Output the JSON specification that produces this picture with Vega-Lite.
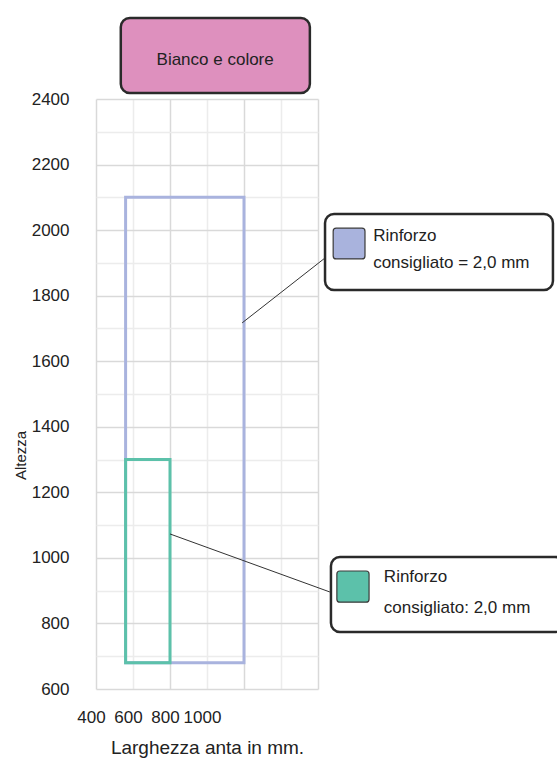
{
  "$schema": "https://vega.github.io/schema/vega-lite/v6.json",
  "width": 222,
  "height": 590,
  "autosize": {"type": "none"},
  "padding": {"left": 96, "top": 99, "right": 239, "bottom": 70},
  "background": "white",
  "config": {
    "view": {"stroke": null},
    "font": "Liberation Sans",
    "text": {"font": "Liberation Sans", "color": "#222222"}
  },
  "datasets": {
    "rinforzi": [
      {"serie": "Rinforzo A", "larghezza_min": 480, "larghezza_max": 800, "altezza_min": 680, "altezza_max": 2100},
      {"serie": "Rinforzo B", "larghezza_min": 480, "larghezza_max": 600, "altezza_min": 680, "altezza_max": 1300}
    ],
    "richiami": [
      {"serie": "Rinforzo A", "x": 795, "y": 1717, "x2": 1019, "y2": 1915},
      {"serie": "Rinforzo B", "x": 600, "y": 1073, "x2": 1032, "y2": 896}
    ],
    "riquadri": [
      {"tipo": "titolo", "x": 467, "x2": 978, "y": 2418, "y2": 2647},
      {"tipo": "legenda", "x": 1019, "x2": 1635, "y": 1817, "y2": 2049},
      {"tipo": "legenda", "x": 1035, "x2": 1665, "y": 774, "y2": 1003}
    ],
    "campioni": [
      {"tipo": "Rinforzo A", "x": 1041, "x2": 1127, "y": 1912, "y2": 2006},
      {"tipo": "Rinforzo B", "x": 1051, "x2": 1138, "y": 865, "y2": 960}
    ],
    "testi": [
      {"testo": "Rinforzo", "x": 1149, "y": 1982},
      {"testo": "consigliato = 2,0 mm", "x": 1149, "y": 1900},
      {"testo": "Rinforzo", "x": 1178, "y": 942},
      {"testo": "consigliato: 2,0 mm", "x": 1178, "y": 847}
    ],
    "titolo": [
      {"testo": "Bianco e colore", "x": 722, "y": 2519}
    ]
  },
  "resolve": {"axis": {"x": "independent", "y": "independent"}},
  "layer": [
    {
      "data": {"name": "rinforzi"},
      "mark": {"type": "rect", "opacity": 0},
      "encoding": {
        "x": {
          "field": "larghezza_min", "type": "quantitative",
          "scale": {"domain": [400, 1000], "nice": false, "zero": false},
          "axis": {
            "orient": "bottom",
            "values": [500, 700, 900],
            "labels": false,
            "ticks": false,
            "domain": false,
            "grid": true,
            "gridColor": "#ececec",
            "gridWidth": 1.5,
            "title": null
          }
        },
        "x2": {"field": "larghezza_max"},
        "y": {
          "field": "altezza_min", "type": "quantitative",
          "scale": {"domain": [600, 2400], "nice": false, "zero": false},
          "axis": {
            "orient": "left",
            "values": [700, 900, 1100, 1300, 1500, 1700, 1900, 2100, 2300],
            "labels": false,
            "ticks": false,
            "domain": false,
            "grid": true,
            "gridColor": "#ececec",
            "gridWidth": 1.5,
            "title": null
          }
        },
        "y2": {"field": "altezza_max"}
      }
    },
    {
      "data": {"name": "rinforzi"},
      "mark": {"type": "rect", "fill": null, "fillOpacity": 0, "strokeWidth": 3},
      "encoding": {
        "x": {
          "field": "larghezza_min", "type": "quantitative",
          "axis": {
            "orient": "bottom",
            "values": [400, 500, 600, 700, 800, 1000],
            "labelExpr": "datum.value <= 700 ? format(400 + (datum.value - 400) * 2, 'd') : ''",
            "labelOverlap": false,
            "labelFlush": false,
            "labelBound": false,
            "labelOffset": -5,
            "labelFontSize": 17,
            "labelColor": "#222222",
            "labelPadding": 20,
            "ticks": false,
            "domain": false,
            "grid": false,
            "title": "Larghezza anta in mm.",
            "titleFontSize": 19,
            "titleFontWeight": "normal",
            "titleColor": "#222222",
            "titlePadding": 13
          }
        },
        "x2": {"field": "larghezza_max"},
        "y": {
          "field": "altezza_min", "type": "quantitative",
          "axis": {
            "orient": "left",
            "values": [600, 800, 1000, 1200, 1400, 1600, 1800, 2000, 2200, 2400],
            "format": "d",
            "labelOverlap": false,
            "labelFlush": false,
            "labelBound": false,
            "labelFontSize": 17,
            "labelColor": "#222222",
            "labelPadding": 27,
            "ticks": false,
            "domain": false,
            "grid": true,
            "gridColor": "#d9d9d9",
            "gridWidth": 1.5,
            "title": "Altezza",
            "titleFontSize": 15,
            "titleFontWeight": "normal",
            "titleColor": "#222222",
            "titleAngle": -90,
            "titleAlign": "center",
            "titleBaseline": "middle",
            "titleX": -76,
            "titleY": 356
          }
        },
        "y2": {"field": "altezza_max"},
        "stroke": {
          "field": "serie", "type": "nominal",
          "scale": {"domain": ["Rinforzo A", "Rinforzo B"], "range": ["#a9b3de", "#5cc1aa"]},
          "legend": null
        }
      }
    },
    {
      "data": {"name": "richiami"},
      "mark": {"type": "rule", "color": "#333333", "strokeWidth": 1},
      "encoding": {
        "x": {"field": "x", "type": "quantitative", "axis": {"orient": "bottom", "values": [400, 600, 800, 1000], "labels": false, "ticks": false, "domain": false, "grid": true, "gridColor": "#d9d9d9", "gridWidth": 1.5, "title": null}},
        "y": {"field": "y", "type": "quantitative", "axis": null},
        "x2": {"field": "x2"},
        "y2": {"field": "y2"}
      }
    },
    {
      "data": {"name": "riquadri"},
      "mark": {"type": "rect", "stroke": "#2a2a2a", "strokeWidth": 2.5, "cornerRadius": 9},
      "encoding": {
        "x": {"field": "x", "type": "quantitative", "axis": null},
        "x2": {"field": "x2"},
        "y": {"field": "y", "type": "quantitative", "axis": null},
        "y2": {"field": "y2"},
        "fill": {
          "field": "tipo", "type": "nominal",
          "scale": {"domain": ["titolo", "legenda", "Rinforzo A", "Rinforzo B"], "range": ["#de90be", "#ffffff", "#a9b3dd", "#5cc1aa"]},
          "legend": null
        }
      }
    },
    {
      "data": {"name": "campioni"},
      "mark": {"type": "rect", "stroke": "#3a3a3a", "strokeWidth": 1.2, "cornerRadius": 3},
      "encoding": {
        "x": {"field": "x", "type": "quantitative", "axis": null},
        "x2": {"field": "x2"},
        "y": {"field": "y", "type": "quantitative", "axis": null},
        "y2": {"field": "y2"},
        "fill": {"field": "tipo", "type": "nominal", "legend": null}
      }
    },
    {
      "data": {"name": "testi"},
      "mark": {"type": "text", "align": "left", "baseline": "middle", "fontSize": 17, "color": "#222222"},
      "encoding": {
        "x": {"field": "x", "type": "quantitative", "axis": null},
        "y": {"field": "y", "type": "quantitative", "axis": null},
        "text": {"field": "testo"}
      }
    },
    {
      "data": {"name": "titolo"},
      "mark": {"type": "text", "align": "center", "baseline": "middle", "fontSize": 17, "color": "#222222"},
      "encoding": {
        "x": {"field": "x", "type": "quantitative", "axis": null},
        "y": {"field": "y", "type": "quantitative", "axis": null},
        "text": {"field": "testo"}
      }
    }
  ]
}
